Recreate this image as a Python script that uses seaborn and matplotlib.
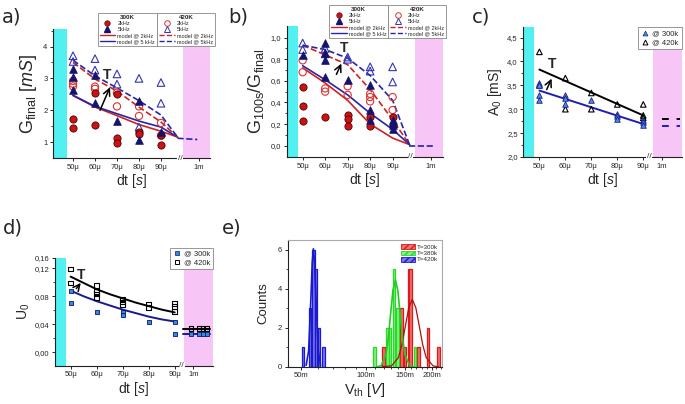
import matplotlib
matplotlib.use("Agg")
import matplotlib.pyplot as plt
import matplotlib.transforms as mtransforms
from matplotlib.lines import Line2D
from matplotlib.patches import Patch
import seaborn as sns

# ---- shared dt axis ----
DT = [50, 60, 70, 80, 90]
DT_LABELS = ["50μ", "60μ", "70μ", "80μ", "90μ", "1m"]
MODEL_DT = [50, 60, 70, 80, 90, 97.5]

# ---- a) G_final ----
A_300_2K_X = [50, 50, 60, 60, 70, 70, 70, 80, 80, 90, 90]
A_300_2K_Y = [1.73, 1.45, 2.53, 1.55, 2.5, 1.13, 0.96, 1.31, 1.26, 1.21, 0.9]
A_300_5K_X = [50, 50, 50, 60, 60, 70, 80, 80, 90]
A_300_5K_Y = [3.29, 3.05, 2.65, 3.11, 2.23, 1.66, 2.29, 1.05, 1.32]
A_420_2K_X = [50, 50, 50, 60, 60, 70, 70, 80, 80, 90, 90]
A_420_2K_Y = [2.92, 2.83, 2.75, 2.74, 2.67, 2.55, 2.12, 2.12, 1.82, 1.6, 1.2]
A_420_5K_X = [50, 50, 60, 60, 70, 70, 80, 80, 90, 90]
A_420_5K_Y = [3.71, 3.53, 3.62, 3.26, 3.14, 2.82, 3.0, 1.47, 2.87, 2.22]
A_MODEL_300_2K = [2.46, 2.1, 1.83, 1.55, 1.34, 1.16]
A_MODEL_300_5K = [2.47, 2.12, 1.89, 1.66, 1.47, 1.16]
A_MODEL_420_2K = [3.5, 2.98, 2.6, 2.1, 1.63, 1.16]
A_MODEL_420_5K = [3.57, 3.08, 2.7, 2.3, 1.85, 1.16]
A_TAIL_X = [97.5, 106.5]
A_TAIL_Y = [1.12, 1.08]

# ---- b) G_100s / G_final ----
B_300_2K_X = [50, 50, 50, 60, 70, 70, 70, 80, 80, 90, 90]
B_300_2K_Y = [0.54, 0.37, 0.23, 0.27, 0.28, 0.25, 0.18, 0.27, 0.18, 0.27, 0.19]
B_300_5K_X = [50, 60, 60, 60, 60, 70, 80, 80, 80, 90, 90, 90, 90]
B_300_5K_Y = [0.84, 0.95, 0.86, 0.79, 0.64, 0.61, 0.56, 0.33, 0.24, 0.24, 0.21, 0.19, 0.15]
B_420_2K_X = [50, 50, 60, 60, 70, 70, 80, 80, 80, 90, 90]
B_420_2K_Y = [0.79, 0.68, 0.53, 0.50, 0.55, 0.47, 0.48, 0.45, 0.41, 0.45, 0.33]
B_420_5K_X = [50, 50, 60, 60, 70, 70, 80, 80, 90, 90]
B_420_5K_Y = [0.95, 0.89, 0.90, 0.85, 0.82, 0.80, 0.73, 0.69, 0.73, 0.59]
B_MODEL_300_2K = [0.72, 0.58, 0.42, 0.20, 0.07, 0.01]
B_MODEL_300_5K = [0.74, 0.61, 0.47, 0.30, 0.15, 0.01]
B_MODEL_420_2K = [0.93, 0.84, 0.75, 0.52, 0.24, 0.01]
B_MODEL_420_5K = [0.93, 0.89, 0.81, 0.65, 0.42, 0.01]
B_TAIL_X = [97.5, 108]
B_TAIL_Y = [0.0, 0.0]
B_YTICKS = [0.0, 0.2, 0.4, 0.6, 0.8, 1.0]
B_YLABELS = ["0,0", "0,2", "0,4", "0,6", "0,8", "1,0"]

# ---- c) A_0 ----
C_300_X = [50, 50, 50, 50, 60, 60, 60, 70, 80, 80, 80, 90, 90, 90]
C_300_Y = [3.55, 3.5, 3.29, 3.2, 3.29, 3.24, 3.1, 3.2, 2.9, 2.85, 2.8, 2.77, 2.73, 2.68]
C_420_X = [50, 50, 60, 60, 70, 70, 80, 90, 90, 90]
C_420_Y = [4.2, 3.5, 3.65, 3.0, 3.34, 3.0, 3.1, 3.1, 2.87, 2.82]
C_FIT_X = [50, 90]
C_FIT_300 = [3.39, 2.69]
C_FIT_420 = [3.83, 2.87]
C_TAIL_X = [97.1, 104.2]
C_TAIL_300 = [2.64, 2.64]
C_TAIL_420 = [2.8, 2.8]
C_YTICKS = [2.0, 2.5, 3.0, 3.5, 4.0, 4.5]
C_YLABELS = ["2,0", "2,5", "3,0", "3,5", "4,0", "4,5"]

# ---- d) U_0 ----
D_300_X = [50, 50, 60, 70, 70, 80, 90, 90]
D_300_Y = [0.087, 0.071, 0.057, 0.058, 0.053, 0.044, 0.044, 0.026]
D_420_X = [50, 50, 60, 60, 60, 60, 70, 70, 70, 80, 80, 90, 90, 90]
D_420_Y = [0.119, 0.099, 0.095, 0.087, 0.083, 0.078, 0.076, 0.072, 0.068,
           0.069, 0.064, 0.070, 0.065, 0.058]
D_FIT_X = [50, 55, 60, 65, 70, 75, 80, 85, 90]
D_FIT_300 = [0.088, 0.080, 0.073, 0.067, 0.061, 0.056, 0.051, 0.047, 0.044]
D_FIT_420 = [0.108, 0.099, 0.090, 0.083, 0.077, 0.071, 0.066, 0.061, 0.057]
D_1M_X = [96.2, 99.3, 100.8, 102.3]
D_1M_300 = [0.026, 0.026, 0.026, 0.026]
D_1M_420 = [0.034, 0.034, 0.034, 0.034]
D_TAIL_X = [93.3, 103.6]
D_YTICKS = [0.0, 0.04, 0.08, 0.12, 0.135]
D_YLABELS = ["0,00", "0,04", "0,08", "0,12", "0,16"]

# ---- e) V_th histograms (mV) ----
E_420_X = [51.2, 55.1, 57.0, 58.5, 60.6, 63.4]
E_420_N = [1, 3, 6, 5, 2, 1]
E_380_X = [109, 125, 128.5, 133.8, 139, 168]
E_380_N = [1, 2, 2, 5, 3, 1]
E_300_X = [120, 145, 150.6, 157, 160, 174.4, 192.8, 215]
E_300_N = [1, 3, 1, 5, 5, 1, 2, 1]
E_FIT_420_X = [52.8, 54.2, 55.6, 56.3, 57.0, 57.7, 58.5, 60.0, 61.5]
E_FIT_420_Y = [0.07, 0.82, 3.67, 5.34, 6.05, 5.34, 3.67, 0.82, 0.07]
E_FIT_380_X = [112, 116.9, 123.0, 126.2, 129.4, 132.7, 136.2, 139.6, 143.2, 146.9, 150.7, 158.5, 165]
E_FIT_380_Y = [0.0, 0.05, 0.60, 1.44, 2.70, 3.93, 4.45, 3.93, 2.70, 1.44, 0.60, 0.05, 0.0]
E_FIT_300_X = [118, 130.6, 140.6, 145.9, 151.4, 157.0, 162.9, 169.0, 175.4, 182.0, 188.8, 203.2, 215]
E_FIT_300_Y = [0.0, 0.04, 0.47, 1.12, 2.09, 3.04, 3.45, 3.04, 2.09, 1.12, 0.47, 0.04, 0.0]
E_XTICKS = [50, 100, 150, 200]
E_XLABELS = ["50m", "100m", "150m", "200m"]

CYAN = "#52F0F0"
PINK = "#F8C6F6"
RED = "#C81414"
NAVY = "#14146E"
ORED = "#DD3333"
ONAVY = "#3535B0"
MRED = "#CC2222"
MNAVY = "#2525A8"

sns.set_theme(style="ticks")
plt.rcParams["font.family"] = ["Liberation Sans", "DejaVu Sans"]
plt.rcParams["mathtext.fontset"] = "custom"
plt.rcParams["mathtext.rm"] = "Liberation Sans"
plt.rcParams["mathtext.it"] = "Liberation Sans:italic"
plt.rcParams["mathtext.bf"] = "Liberation Sans:bold"
plt.rcParams["axes.linewidth"] = 0.8
plt.rcParams["axes.edgecolor"] = "#222222"
for k in ("xtick", "ytick"):
    plt.rcParams[f"{k}.major.size"] = 2.5
    plt.rcParams[f"{k}.minor.size"] = 1.5
    plt.rcParams[f"{k}.major.width"] = 0.7
    plt.rcParams[f"{k}.minor.width"] = 0.6
    plt.rcParams[f"{k}.labelsize"] = 5.5
    plt.rcParams[f"{k}.major.pad"] = 1.5

fig = plt.figure(figsize=(6.85, 4.04), dpi=100)
W, H = 685.0, 404.0


def box(l, t, r, b):
    return [l / W, 1 - b / H, (r - l) / W, (b - t) / H]


def dt_axis(ax, xlim, one_m, cyan_end, pink_start, brk):
    ax.set_xlim(xlim)
    ax.axvspan(xlim[0], cyan_end, color=CYAN, lw=0, zorder=0)
    ax.axvspan(pink_start, xlim[1], color=PINK, lw=0, zorder=0)
    ax.set_xticks(DT + [one_m])
    ax.set_xticklabels(DT_LABELS)
    ax.set_xlabel("dt [$s$]", fontsize=10, labelpad=1)
    sns.despine(ax=ax)
    trans = mtransforms.blended_transform_factory(ax.transData, ax.transAxes)
    ax.text(brk, 0, "//", transform=trans, ha="center", va="center", fontsize=6,
            color="#333333", bbox=dict(fc="white", ec="none", pad=0.3), zorder=5, clip_on=False)


def pts(ax, x, y, marker, color, filled, s, edge=None):
    if filled:
        sns.scatterplot(x=x, y=y, marker=marker, color=color, edgecolor=edge or color,
                        linewidth=0.6, s=s, ax=ax, zorder=3)
    else:
        sns.scatterplot(x=x, y=y, marker=marker, facecolor="none", edgecolor=color,
                        linewidth=0.8, s=s, ax=ax, zorder=3)


def line(ax, x, y, color, ls="-", lw=1.2):
    sns.lineplot(x=x, y=y, color=color, linestyle=ls, linewidth=lw, ax=ax, zorder=2)


def arrow_T(ax, tail, head, tpos):
    ax.annotate("", xy=head, xytext=tail,
                arrowprops=dict(arrowstyle="->", lw=1.1, color="black", shrinkA=0, shrinkB=0))
    ax.text(*tpos, "T", fontsize=10, fontweight="bold", ha="center", va="center")


def two_col_legend(ltop, mid, rtop, left_lbls, right_lbls):
    left_h = [Line2D([], [], marker="o", ls="", mfc=RED, mec="#550000", ms=4, mew=0.4),
              Line2D([], [], marker="^", ls="", mfc=NAVY, mec=NAVY, ms=4),
              Line2D([], [], color=MRED, lw=1),
              Line2D([], [], color=MNAVY, lw=1)]
    right_h = [Line2D([], [], marker="o", ls="", mfc="none", mec=ORED, ms=4, mew=0.7),
               Line2D([], [], marker="^", ls="", mfc="none", mec=ONAVY, ms=4, mew=0.7),
               Line2D([], [], color=MRED, lw=1, ls="--"),
               Line2D([], [], color=MNAVY, lw=1, ls="--")]
    kw = dict(fontsize=4, title_fontsize=4.5, labelspacing=0.2, handlelength=2.8,
              handletextpad=0.4, borderpad=0.35, frameon=True, fancybox=False,
              framealpha=1, edgecolor="#888888", borderaxespad=0)
    l1 = fig.legend(left_h, left_lbls, title="300K", loc="upper right",
                    bbox_to_anchor=(mid / W, 1 - ltop / H), **kw)
    l2 = fig.legend(right_h, right_lbls, title="420K", loc="upper left",
                    bbox_to_anchor=(mid / W, 1 - rtop / H), **kw)
    for lg in (l1, l2):
        lg.get_title().set_fontweight("bold")
        lg.get_frame().set_linewidth(0.6)


# ================= a) =================
ax = fig.add_axes(box(53, 29, 210, 158))
dt_axis(ax, (40.9, 112.3), 107.3, 47.1, 99.9, 98.6)
ax.set_ylim(0.5, 4.55)
ax.set_yticks([1, 2, 3, 4])
ax.set_yticks([1.5, 2.5, 3.5, 4.5], minor=True)
line(ax, MODEL_DT, A_MODEL_300_2K, MRED)
line(ax, MODEL_DT, A_MODEL_300_5K, MNAVY)
line(ax, MODEL_DT, A_MODEL_420_2K, MRED, "--")
line(ax, MODEL_DT, A_MODEL_420_5K, MNAVY, "--")
line(ax, A_TAIL_X, A_TAIL_Y, MNAVY, "--")
pts(ax, A_420_2K_X, A_420_2K_Y, "o", ORED, False, 27)
pts(ax, A_420_5K_X, A_420_5K_Y, "^", ONAVY, False, 30)
pts(ax, A_300_2K_X, A_300_2K_Y, "o", RED, True, 27, edge="#550000")
pts(ax, A_300_5K_X, A_300_5K_Y, "^", NAVY, True, 30)
arrow_T(ax, (62.3, 2.0), (66.8, 2.72), (65.6, 3.1))
ax.set_ylabel("G$_{\\rm final}$ [$mS$]", fontsize=13, labelpad=3)
two_col_legend(13, 157, 13, ["2kHz", "5kHz", "model @ 2kHz", "model @ 5 kHz"],
               ["2kHz", "5kHz", "model @ 2kHz", "model @ 5kHz"])

# ================= b) =================
ax = fig.add_axes(box(286.7, 26, 443, 157))
dt_axis(ax, (42.9, 112.4), 107, 48, 99.9, 98)
ax.set_ylim(-0.105, 1.108)
ax.set_yticks(B_YTICKS)
ax.set_yticklabels(B_YLABELS)
ax.set_yticks([0.1, 0.3, 0.5, 0.7, 0.9], minor=True)
line(ax, MODEL_DT, B_MODEL_300_2K, MRED)
line(ax, MODEL_DT, B_MODEL_300_5K, MNAVY)
line(ax, MODEL_DT, B_MODEL_420_2K, MRED, "--")
line(ax, MODEL_DT, B_MODEL_420_5K, MNAVY, "--")
line(ax, B_TAIL_X, B_TAIL_Y, MNAVY, "--")
pts(ax, B_420_2K_X, B_420_2K_Y, "o", ORED, False, 27)
pts(ax, B_420_5K_X, B_420_5K_Y, "^", ONAVY, False, 30)
pts(ax, B_300_2K_X, B_300_2K_Y, "o", RED, True, 27, edge="#550000")
pts(ax, B_300_5K_X, B_300_5K_Y, "^", NAVY, True, 30)
arrow_T(ax, (65, 0.66), (67.2, 0.76), (68.5, 0.9))
ax.set_ylabel("G$_{\\rm 100s}$/G$_{\\rm final}$", fontsize=13, labelpad=3)
two_col_legend(5, 388.3, 5, ["2kHz", "5kHz", "model @ 2kHz", "model @ 5 kHz"],
               ["2kHz", "5kHz", "model @ 2kHz", "model @ 5kHz"])

# ================= c) =================
ax = fig.add_axes(box(523.3, 27, 681.7, 157))
dt_axis(ax, (43.8, 104.8), 97.1, 48.1, 93.8, 92.2)
ax.set_ylim(2.0, 4.72)
ax.set_yticks(C_YTICKS)
ax.set_yticklabels(C_YLABELS)
ax.set_yticks([2.25, 2.75, 3.25, 3.75, 4.25], minor=True)
line(ax, C_FIT_X, C_FIT_420, "black", lw=1.4)
line(ax, C_FIT_X, C_FIT_300, "#1E1EB4", lw=1.4)
line(ax, C_TAIL_X, C_TAIL_420, "black", lw=1.4)
ax.lines[-1].set_dashes([3.5, 4])
line(ax, C_TAIL_X, C_TAIL_300, "#1E1EB4", lw=1.4)
ax.lines[-1].set_dashes([3.5, 4])
pts(ax, C_420_X, C_420_Y, "^", "black", False, 16)
pts(ax, C_300_X, C_300_Y, "^", "#4A90E2", True, 16, edge="#1A1A8A")
arrow_T(ax, (52.8, 3.41), (54.7, 3.64), (54.9, 3.95))
ax.set_ylabel("A$_{\\rm 0}$ [mS]", fontsize=10, labelpad=2)
hc = [Line2D([], [], marker="^", ls="", mfc="#4A90E2", mec="#1A1A8A", ms=3.5, mew=0.5),
      Line2D([], [], marker="^", ls="", mfc="none", mec="black", ms=3.5, mew=0.7)]
lg = ax.legend(hc, ["@ 300k", "@ 420k"], loc="upper right", bbox_to_anchor=(1, 1),
               borderaxespad=0, fontsize=5.5, frameon=True, fancybox=False, framealpha=1,
               edgecolor="#888888", handletextpad=0.3, labelspacing=0.2, borderpad=0.4,
               handlelength=1.2)
lg.get_frame().set_linewidth(0.6)

# ================= d) =================
ax = fig.add_axes(box(55, 257.7, 212.7, 365.7))
dt_axis(ax, (44, 104.6), 97.2, 48.2, 93.6, 92.7)
ax.set_ylim(-0.019, 0.135)
ax.set_yticks(D_YTICKS)
ax.set_yticklabels(D_YLABELS)
ax.set_yticks([0.02, 0.06, 0.10], minor=True)
line(ax, D_FIT_X, D_FIT_420, "black", lw=1.4)
line(ax, D_FIT_X, D_FIT_300, "#1A1A90", lw=1.4)
line(ax, D_TAIL_X, D_1M_420[:2], "black", lw=1.4)
line(ax, D_TAIL_X, D_1M_300[:2], "#1A1A90", lw=1.4)
pts(ax, D_420_X, D_420_Y, "s", "black", False, 11)
pts(ax, D_1M_X, D_1M_420, "s", "black", False, 11)
pts(ax, D_300_X, D_300_Y, "s", "#2F8FD8", True, 11, edge="#10106E")
pts(ax, D_1M_X, D_1M_300, "s", "#2F8FD8", True, 11, edge="#10106E")
arrow_T(ax, (52.2, 0.091), (53.9, 0.099), (54.2, 0.111))
ax.set_ylabel("U$_{\\rm 0}$", fontsize=10, labelpad=2)
hd = [Line2D([], [], marker="s", ls="", mfc="#2F8FD8", mec="#10106E", ms=3, mew=0.5),
      Line2D([], [], marker="s", ls="", mfc="none", mec="black", ms=3, mew=0.7)]
lg = fig.legend(hd, ["@ 300k", "@ 420k"], loc="upper right",
                bbox_to_anchor=(212.7 / W, 1 - 247.7 / H), borderaxespad=0, fontsize=5.5,
                frameon=True, fancybox=False, framealpha=1, edgecolor="#888888",
                handletextpad=0.3, labelspacing=0.15, borderpad=0.35, handlelength=1.2)
lg.get_frame().set_linewidth(0.6)

# ================= e) =================
ax = fig.add_axes(box(287.7, 240, 442.3, 366.7))
ax.set_xscale("log")
ax.set_xlim(43.4, 224)
ax.set_ylim(0, 6.5)
hist = [(E_300_X, E_300_N, "#E01818", "#F07070"),
        (E_380_X, E_380_N, "#22DD22", "#88EE88"),
        (E_420_X, E_420_N, "#1A1ACC", "#7777EE")]
for xs, ns, c, fc in hist:
    ax.bar(xs, ns, width=[x * 0.026 for x in xs], color=fc, edgecolor=c, linewidth=0.9, zorder=2)
line(ax, E_FIT_300_X, E_FIT_300_Y, "#AA1111", lw=0.9)
line(ax, E_FIT_380_X, E_FIT_380_Y, "#22CC22", lw=1.2)
line(ax, E_FIT_420_X, E_FIT_420_Y, "#1A1ACC", lw=1.2)
ax.set_xticks(E_XTICKS)
ax.set_xticklabels(E_XLABELS)
ax.set_xticks([x for x in range(40, 230, 10) if x not in E_XTICKS and 43 < x < 224], minor=True)
ax.set_xticklabels([], minor=True)
ax.set_yticks([0, 2, 4, 6])
ax.set_yticks([1, 3, 5], minor=True)
for s in ("top", "right"):
    ax.spines[s].set_color("#AAAAAA")
ax.tick_params(which="both", top=False, right=False)
ax.set_ylabel("Counts", fontsize=9.5, labelpad=6)
ax.set_xlabel("V$_{\\rm th}$ [$V$]", fontsize=10.5, labelpad=1)
he = [Patch(facecolor="#F07070", edgecolor="#E01818", hatch="/////", lw=0.6),
      Patch(facecolor="#88EE88", edgecolor="#22DD22", hatch="/////", lw=0.6),
      Patch(facecolor="#7777EE", edgecolor="#1A1ACC", hatch="/////", lw=0.6)]
ax.legend(he, ["T=300k", "T=380k", "T=420k"], loc="upper right", bbox_to_anchor=(1, 1),
          borderaxespad=0.3, fontsize=4.5, frameon=False, handlelength=2.2, handleheight=0.8,
          handletextpad=0.3, labelspacing=0.1)

# ---- panel letters ----
for lbl, x, y in [("a)", 2, 17), ("b)", 228, 17), ("c)", 472, 17), ("d)", 3, 228), ("e)", 222, 228)]:
    fig.text(x / W, 1 - y / H, lbl, fontsize=14, va="center", ha="left", family="DejaVu Sans")

fig.savefig("out.png", dpi=100)
